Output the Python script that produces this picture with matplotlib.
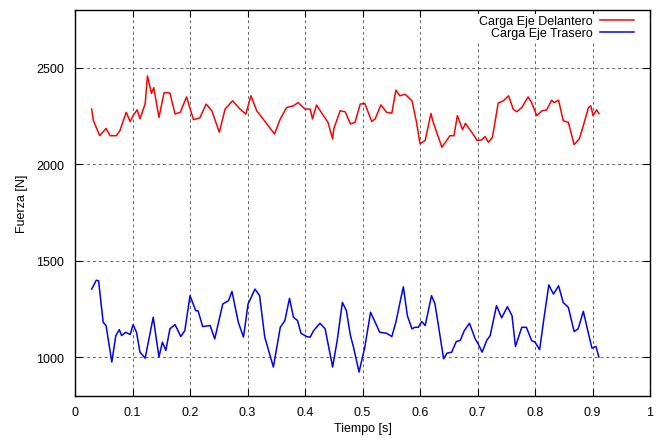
import matplotlib
matplotlib.use("Agg")
import matplotlib.pyplot as plt

plt.rcParams['font.family'] = ['Liberation Sans', 'DejaVu Sans']

# Carga eje delantero (curva roja)
t_del = [0.029, 0.032, 0.043, 0.054, 0.061, 0.072, 0.078, 0.089, 0.096, 0.101, 0.108, 0.113,
         0.122, 0.126, 0.133, 0.137, 0.146, 0.155, 0.165, 0.174, 0.183, 0.194, 0.206, 0.217,
         0.228, 0.238, 0.251, 0.261, 0.274, 0.287, 0.297, 0.306, 0.316, 0.325, 0.336, 0.347,
         0.357, 0.368, 0.380, 0.388, 0.400, 0.409, 0.413, 0.420, 0.432, 0.440, 0.448, 0.450,
         0.461, 0.470, 0.479, 0.487, 0.496, 0.504, 0.516, 0.522, 0.532, 0.542, 0.551, 0.558,
         0.565, 0.574, 0.586, 0.594, 0.600, 0.609, 0.619, 0.623, 0.629, 0.638, 0.652, 0.659,
         0.665, 0.674, 0.679, 0.696, 0.699, 0.707, 0.713, 0.719, 0.726, 0.736, 0.745, 0.754,
         0.762, 0.768, 0.777, 0.788, 0.794, 0.803, 0.812, 0.820, 0.829, 0.833, 0.841, 0.849,
         0.858, 0.868, 0.877, 0.884, 0.893, 0.897, 0.901, 0.907, 0.911]
f_del = [2287, 2227, 2149, 2187, 2149, 2149, 2175, 2270, 2222, 2253, 2283, 2237,
         2314, 2459, 2368, 2398, 2244, 2373, 2370, 2262, 2270, 2350, 2232, 2241,
         2313, 2278, 2167, 2287, 2330, 2287, 2261, 2356, 2278, 2244, 2201, 2158,
         2236, 2295, 2304, 2321, 2287, 2287, 2236, 2308, 2253, 2218, 2132, 2184,
         2278, 2273, 2210, 2218, 2313, 2316, 2223, 2236, 2309, 2270, 2266, 2385,
         2356, 2364, 2330, 2218, 2107, 2124, 2264, 2218, 2167, 2089, 2149, 2149,
         2253, 2180, 2213, 2141, 2124, 2127, 2144, 2115, 2141, 2318, 2330, 2356,
         2287, 2273, 2295, 2350, 2321, 2253, 2278, 2282, 2333, 2321, 2333, 2227,
         2218, 2103, 2132, 2201, 2295, 2304, 2253, 2283, 2264]

# Carga eje trasero (curva azul)
t_tra = [0.029, 0.037, 0.041, 0.049, 0.054, 0.064, 0.071, 0.077, 0.081, 0.088, 0.096, 0.101,
         0.107, 0.113, 0.122, 0.136, 0.146, 0.152, 0.158, 0.165, 0.174, 0.184, 0.191, 0.200,
         0.210, 0.214, 0.222, 0.235, 0.243, 0.257, 0.267, 0.273, 0.284, 0.293, 0.301, 0.313,
         0.321, 0.330, 0.345, 0.357, 0.365, 0.373, 0.380, 0.387, 0.393, 0.403, 0.409, 0.415,
         0.426, 0.435, 0.448, 0.456, 0.465, 0.472, 0.479, 0.484, 0.494, 0.504, 0.514, 0.522,
         0.530, 0.542, 0.551, 0.558, 0.564, 0.571, 0.578, 0.586, 0.591, 0.597, 0.603, 0.609,
         0.620, 0.626, 0.632, 0.641, 0.647, 0.655, 0.663, 0.670, 0.677, 0.686, 0.696, 0.701,
         0.708, 0.716, 0.722, 0.733, 0.742, 0.752, 0.760, 0.766, 0.777, 0.785, 0.794, 0.800,
         0.808, 0.815, 0.824, 0.832, 0.841, 0.849, 0.858, 0.868, 0.875, 0.884, 0.891, 0.899,
         0.906, 0.911]
f_tra = [1354, 1400, 1397, 1182, 1165, 976, 1113, 1144, 1113, 1130, 1119, 1170,
         1130, 1027, 996, 1208, 1002, 1079, 1036, 1148, 1170, 1108, 1139, 1320,
         1242, 1242, 1160, 1165, 1096, 1277, 1294, 1342, 1182, 1105, 1277, 1354,
         1320, 1105, 950, 1156, 1191, 1306, 1208, 1191, 1125, 1108, 1105, 1139,
         1177, 1148, 950, 1088, 1285, 1242, 1113, 1057, 924, 1053, 1234, 1182,
         1130, 1125, 1108, 1182, 1268, 1366, 1216, 1148, 1156, 1156, 1186, 1165,
         1320, 1277, 1165, 993, 1022, 1027, 1082, 1088, 1139, 1177, 1096, 1071,
         1027, 1088, 1113, 1268, 1205, 1263, 1216, 1057, 1156, 1156, 1088, 1079,
         1040, 1191, 1376, 1328, 1371, 1285, 1259, 1134, 1148, 1239, 1148, 1048,
         1057, 1002]

x_ticks = [0, 0.1, 0.2, 0.3, 0.4, 0.5, 0.6, 0.7, 0.8, 0.9, 1]
x_labels = ['0', '0.1', '0.2', '0.3', '0.4', '0.5', '0.6', '0.7', '0.8', '0.9', '1']
y_ticks = [1000, 1500, 2000, 2500]

fig = plt.figure(figsize=(6.62, 4.39), dpi=100)
ax = fig.add_axes([0.1133, 0.0957, 0.8686, 0.879])

ax.plot(t_del, f_del, color='#ff0000', lw=1.1, label='Carga Eje Delantero')
ax.plot(t_tra, f_tra, color='#0000ff', lw=1.1, label='Carga Eje Trasero')

ax.set_xlim(0, 1)
ax.set_ylim(800, 2800)
ax.set_xticks(x_ticks)
ax.set_xticklabels(x_labels)
ax.set_yticks(y_ticks)
ax.grid(True, color='#666666', linestyle=(0, (3, 3)), lw=0.7)
ax.tick_params(direction='in', top=True, right=True, length=5, labelsize=9)
ax.tick_params(axis='x', pad=7)
ax.tick_params(axis='y', pad=8)
for s in ax.spines.values():
    s.set_linewidth(1.0)

ax.set_xlabel('Tiempo [s]', fontsize=9, labelpad=3)
ax.set_ylabel('Fuerza [N]', fontsize=9, labelpad=6)

leg = ax.legend(loc='upper right', frameon=True, markerfirst=False, fontsize=9,
                handlelength=2.7, handletextpad=0.6, labelspacing=0.0,
                borderpad=0.1, borderaxespad=0, fancybox=False,
                bbox_to_anchor=(1 - 15 / 575, 1 - 4 / 386))
leg.get_frame().set_facecolor('white')
leg.get_frame().set_edgecolor('none')
leg.get_frame().set_alpha(1)

plt.savefig('out.png', dpi=100)
plt.close(fig)
